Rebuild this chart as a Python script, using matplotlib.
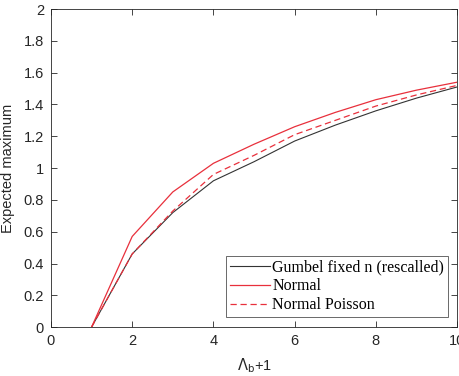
import numpy as np
import matplotlib
matplotlib.use('Agg')
import matplotlib.pyplot as plt

lam = [1, 2, 3, 4, 5, 6, 7, 8, 9, 10]
gumbel = [0, 0.46, 0.72, 0.92, 1.04, 1.17, 1.27, 1.36, 1.44, 1.51]
normal = [0, 0.57, 0.85, 1.03, 1.15, 1.26, 1.35, 1.43, 1.49, 1.54]
normal_poisson = [0, 0.46, 0.73, 0.96, 1.08, 1.21, 1.30, 1.39, 1.46, 1.52]

plt.rcParams['font.family'] = 'Liberation Sans'

fig = plt.figure(figsize=(4.59, 3.76), dpi=100)
ax = fig.add_axes([0.111, 0.130, 0.885, 0.846])

ax.plot(lam, gumbel, color='#333333', lw=0.8, label='Gumbel fixed n (rescalled)')
ax.plot(lam, normal, color='#e8303c', lw=0.9, label='Normal')
ax.plot(lam, normal_poisson, color='#e8303c', lw=0.9, ls=(0, (5, 3)), label='Normal Poisson')

ax.set_xlim(0, 10)
ax.set_ylim(0, 2)
ax.set_xticks([0, 2, 4, 6, 8, 10])
ax.set_yticks(np.arange(0, 2.01, 0.2))
ax.set_yticklabels(['0', '0.2', '0.4', '0.6', '0.8', '1', '1.2', '1.4', '1.6', '1.8', '2'])
ax.tick_params(direction='in', top=True, right=True, labelsize=10.5, colors='#262626',
               length=4, width=0.6, pad=5)
for s in ax.spines.values():
    s.set_color('#262626')
    s.set_linewidth(0.6)

ax.set_xlabel(r'$\Lambda_{\rm b}$+1', fontsize=10.5, color='#262626', labelpad=6)
ax.set_ylabel('Expected maximum', fontsize=10.5, color='#262626', labelpad=6)

leg = ax.legend(loc='lower right', bbox_to_anchor=(0.978, 0.031), fancybox=False,
                edgecolor='#262626', prop={'family': 'Liberation Serif', 'size': 11.5},
                handlelength=2.5, handletextpad=0.15, labelspacing=0.18, borderpad=0.25,
                borderaxespad=0)
leg.get_frame().set_linewidth(0.6)

fig.savefig('out.png', dpi=100)
